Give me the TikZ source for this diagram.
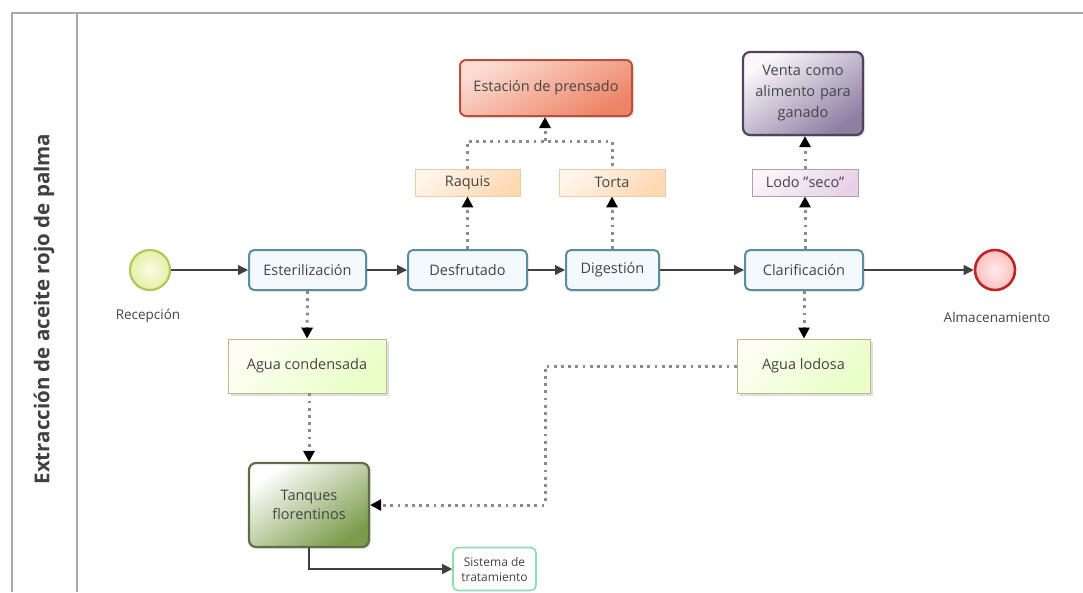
\documentclass[tikz,border=0pt]{standalone}
\usepackage{fontspec}
\setmainfont{Open Sans}
\usetikzlibrary{arrows.meta,shadows,positioning}
\definecolor{txt}{HTML}{454545}
\definecolor{taskb}{HTML}{5A8CA3}
\definecolor{taskf}{HTML}{F3F9FD}
\definecolor{lanec}{HTML}{A8A8A8}
\definecolor{startb}{HTML}{B0C85A}
\definecolor{startin}{HTML}{FAFCE6}
\definecolor{startout}{HTML}{E6EFA6}
\definecolor{prensA}{HTML}{FBDCD2}
\definecolor{prensB}{HTML}{EE8466}
\definecolor{prensD}{HTML}{B8503F}
\definecolor{tanqB}{HTML}{7C9C4C}
\definecolor{tanqD}{HTML}{5E6E46}
\definecolor{ventaB}{HTML}{8E7FA3}
\definecolor{ventaD}{HTML}{4F445C}
\tikzset{
  base/.style={font=\fontsize{14.5}{17}\selectfont, text=txt, align=center, inner sep=1pt},
  task/.style={base, draw=taskb, line width=2pt, rounded corners=5pt, fill=taskf,
     minimum height=40pt, drop shadow={opacity=0.15, shadow xshift=1.5pt, shadow yshift=-1.5pt}},
  orangebox/.style={base, draw=orange!35!brown!40, line width=0.9pt, top color=orange!8, bottom color=orange!30, shading angle=40, minimum width=105pt, minimum height=27pt},
  lavbox/.style={base, draw=violet!25!gray!60, line width=0.9pt, top color=violet!4, bottom color=violet!18, shading angle=40, minimum width=106pt, minimum height=27pt},
  greenbox/.style={base, draw=olive!40!gray!60, line width=0.9pt, top color=green!15!yellow!5, bottom color=green!40!yellow!22, shading angle=45, minimum width=158pt, minimum height=54pt,
     drop shadow={opacity=0.25, shadow xshift=2.5pt, shadow yshift=-3pt}},
  solidarrow/.style={draw=black!75, line width=1.1pt, -{Triangle[length=10pt,width=10pt]}},
  dotline/.style={draw=black!45, line width=3pt, dash pattern=on 2.8pt off 4.4pt},
  dotarrow/.style={dotline, -{Triangle[length=11pt,width=11pt,color=black]}},
  lbl/.style={base, font=\fontsize{13.5}{16}\selectfont}
}
\begin{document}
\begin{tikzpicture}[x=1pt,y=-1pt]
\useasboundingbox (0,0) rectangle (1083,592);
% lane frame
\draw[lanec, line width=2pt] (1083,13) -- (12,13) -- (12,592);
\draw[lanec, line width=2pt] (77,13) -- (77,592);
\node[font=\bfseries\fontsize{20.5}{24}\selectfont, text=black!75, rotate=90] (title) at (44,309) {Extracción de aceite rojo de palma};

% events
\node[circle, draw=startb, line width=2.2pt, inner color=startin, outer color=startout, minimum size=40pt] (start) at (150,270) {};
\node[lbl] (recep) at (148,316) {Recepción};
\node[circle, draw=red!70!black!85, line width=2.6pt, inner color=red!8, outer color=red!25, minimum size=40pt] (end) at (995,270) {};
\node[lbl] (almac) at (997,317) {Almacenamiento};

% tasks
\node[task, minimum width=117pt] (ester) at (307.5,270) {Esterilización};
\node[task, minimum width=119pt] (desf) at (467.5,270) {Desfrutado};
\node[task, minimum width=93pt] (dig) at (612.5,270) {Digestión};
\node[task, minimum width=118pt] (clar) at (804,270) {Clarificación};

% upper products
\node[orangebox] (raq) at (467.5,182.5) {Raquis};
\node[orangebox, minimum width=106pt] (torta) at (612,182.5) {Torta};
\node[base, draw=prensD, line width=2pt, rounded corners=6pt, top color=prensA, bottom color=prensB, shading angle=30, minimum width=172pt, minimum height=56pt,
  drop shadow={opacity=0.2, shadow xshift=2pt, shadow yshift=-2pt}] (prens) at (546,88) {Estación de prensado};
\node[lavbox] (lodo) at (805,182.5) {Lodo \symbol{34}seco\symbol{34}};
\node[base, draw=ventaD, line width=2.2pt, rounded corners=7pt, top color=violet!3, bottom color=ventaB, shading angle=35, minimum width=120pt, minimum height=83pt, text width=112pt, font=\fontsize{14.5}{21}\selectfont,
  drop shadow={opacity=0.2, shadow xshift=2pt, shadow yshift=-2pt}] (venta) at (803,93.5) {Venta como\\alimento para\\ganado};

% lower products
\node[greenbox] (aguac) at (307,366) {Agua condensada};
\node[greenbox, minimum width=133pt] (agual) at (803.5,366) {Agua lodosa};
\node[base, draw=tanqD, line width=2.2pt, rounded corners=7pt, top color=white, bottom color=tanqB, shading angle=35, minimum width=120pt, minimum height=84pt, font=\fontsize{14.5}{19}\selectfont,
  drop shadow={opacity=0.2, shadow xshift=2pt, shadow yshift=-2pt}] (tanq) at (309,505) {Tanques\\florentinos};
\node[base, draw=green!40!teal!45, line width=1.6pt, rounded corners=5pt, fill=white, minimum width=83pt, minimum height=43pt, font=\fontsize{12}{15}\selectfont] (sist) at (494.5,569) {Sistema de\\tratamiento};

% main flow
\draw[solidarrow] (start) -- (ester);
\draw[solidarrow] (ester) -- (desf);
\draw[solidarrow] (desf) -- (dig);
\draw[solidarrow] (dig) -- (clar);
\draw[solidarrow] (clar) -- (end);

% dotted flows up
\coordinate (j) at (545,141);
\draw[dotarrow] (desf.north) -- (raq.south);
\draw[dotarrow] (dig.north -| torta.south) -- (torta.south);
\draw[dotline] (raq.north) |- (j) -| (torta.north);
\draw[dotarrow] (j) -- (prens.south -| j);
\draw[dotarrow] (clar.north -| lodo.south) -- (lodo.south);
\draw[dotarrow] (lodo.north) -- (venta.south -| lodo.north);

% dotted flows down
\draw[dotarrow] (ester.south) -- (aguac.north);
\draw[dotarrow] (aguac.south -| tanq.north) -- (tanq.north);
\draw[dotarrow] (clar.south) -- (agual.north -| clar.south);
\coordinate (k) at (545,366);
\draw[dotarrow] (agual.west) -- (k) |- (tanq.east);

% to treatment
\draw[solidarrow] (tanq.south) |- (sist.west);
\end{tikzpicture}
\end{document}
